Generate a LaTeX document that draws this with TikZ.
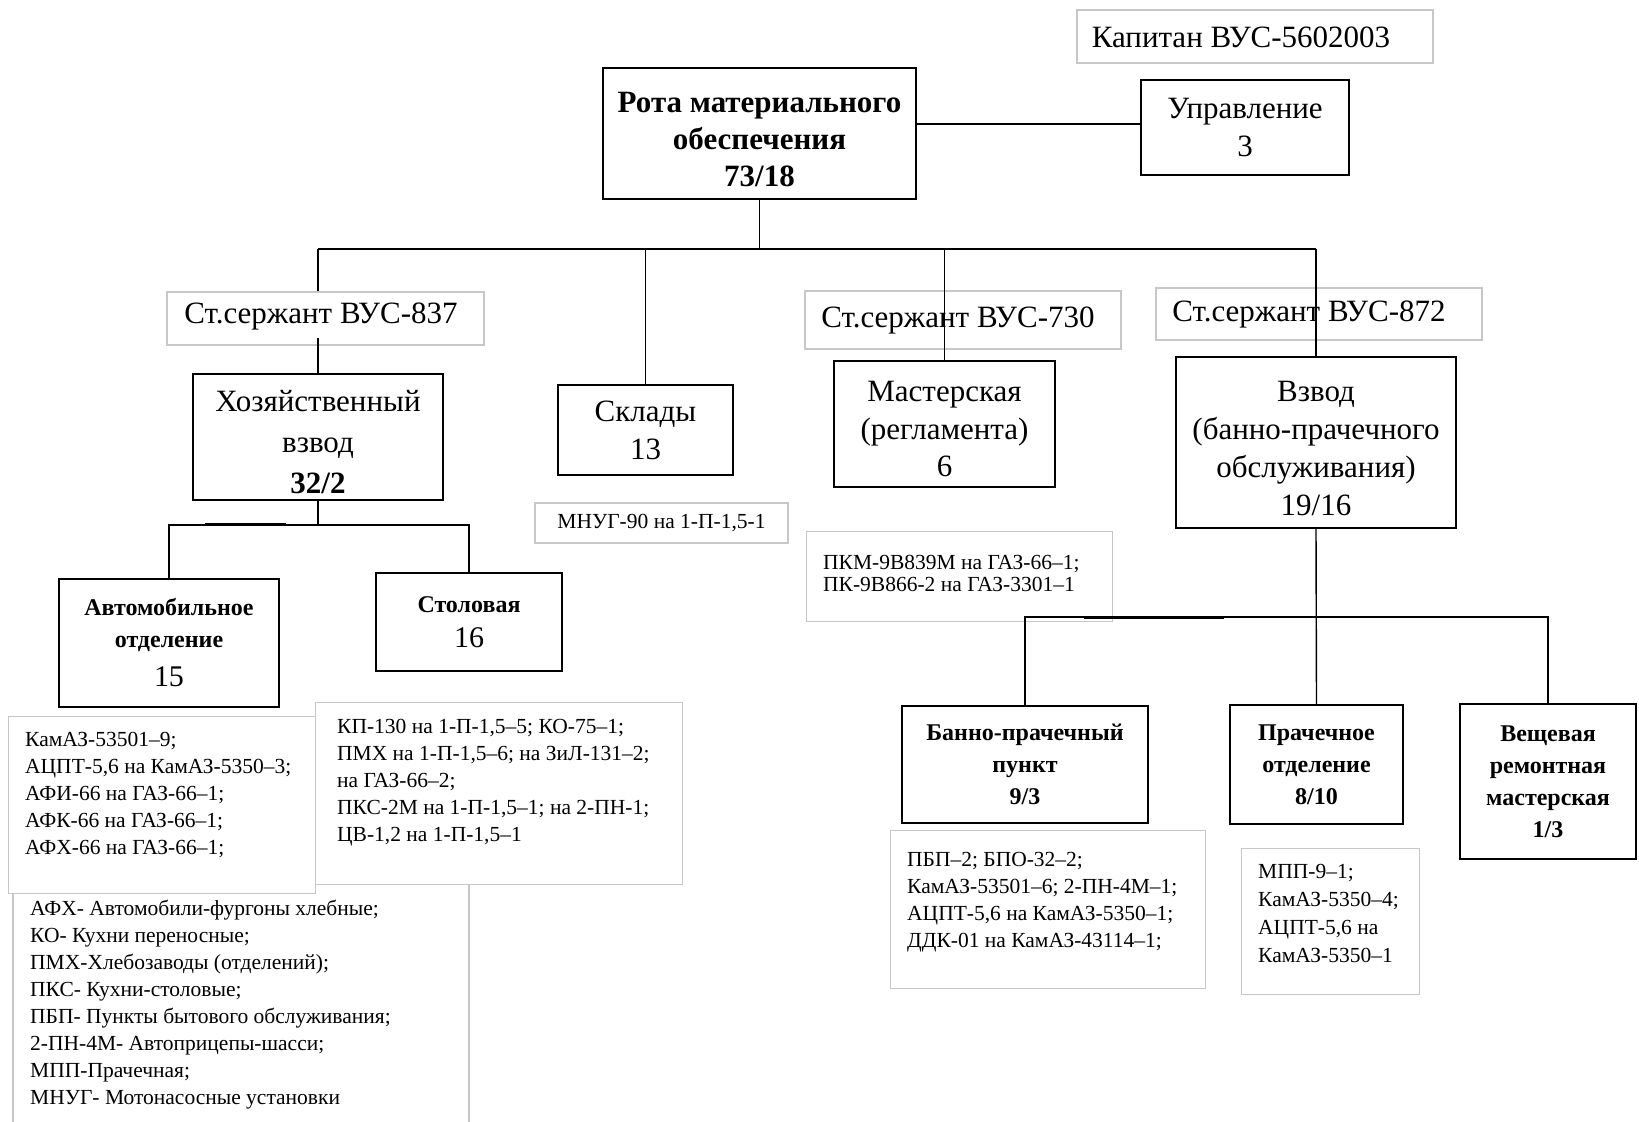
\documentclass[tikz,border=0pt]{standalone}
\usepackage{fontspec}
\setmainfont{Liberation Serif}
\usetikzlibrary{calc}
\begin{document}
\begin{tikzpicture}[x=1pt,y=-1pt,
  box/.style={draw=black, line width=1.6pt, inner sep=0pt, align=center},
  lbl/.style={draw=black!22, line width=1.1pt, inner sep=0pt},
  info/.style={draw=black!22, line width=1.1pt, inner sep=0pt},
  txt/.style={inner sep=0pt, align=center},
  conn/.style={draw=black, line width=1.4pt},
  big/.style={font=\fontsize{31}{37}\selectfont},
  bigb/.style={font=\bfseries\fontsize{31}{37}\selectfont},
  midb/.style={font=\bfseries\fontsize{24}{32}\selectfont},
  small/.style={font=\fontsize{21.5}{27}\selectfont, inner sep=0pt, align=left, anchor=north west}
]
\useasboundingbox (0,0) rectangle (1639,1122);
\fill[white] (0,0) rectangle (1639,1122);

% top
\node[lbl, minimum width=356, minimum height=53] (kap) at (1255,36.5) {};
\node[txt, big] (kapt) at (1241,37) {Капитан ВУС-5602003};
\node[box, minimum width=313, minimum height=131] (rota) at (759.5,133.5) {};
\node[txt, bigb] (rotat) at (759.5,139) {Рота материального\\обеспечения\\73/18};
\node[box, font=\fontsize{31}{38}\selectfont, minimum width=208, minimum height=95] (upr) at (1245,127.5) {Управление\\3};

% second level
\node[lbl, minimum width=317, minimum height=53] (l837) at (325.5,318.5) {};
\node[txt, big] (l837t) at (321,316) {Ст.сержант ВУС-837};
\node[box, minimum width=250, minimum height=126] (hoz) at (318,437) {};
\node[txt, font=\fontsize{31}{41}\selectfont] (hozt) at (318,442) {Хозяйственный\\взвод\\\textbf{32/2}};
\node[box, font=\fontsize{31}{38}\selectfont, minimum width=175, minimum height=90] (skl) at (645.5,430) {Склады\\13};
\node[info, font=\fontsize{21.5}{27}\selectfont, minimum width=253, minimum height=40] (mnug) at (661.5,523) {МНУГ-90 на 1-П-1,5-1};
\node[lbl, minimum width=316, minimum height=58] (l730) at (963,320) {};
\node[txt, big] (l730t) at (958,320) {Ст.сержант ВУС-730};
\node[box, minimum width=221, minimum height=126] (mast) at (944.5,424) {};
\node[txt, font=\fontsize{31}{37.5}\selectfont] (mastt) at (944.5,429) {Мастерская\\(регламента)\\6};
\node[lbl, minimum width=326, minimum height=52] (l872) at (1319,314) {};
\node[txt, big] (l872t) at (1309,314) {Ст.сержант ВУС-872};
\node[box, minimum width=280, minimum height=171] (vzv) at (1316,442.5) {};
\node[txt, font=\fontsize{31}{38}\selectfont] (vzvt) at (1316,448) {Взвод\\(банно-прачечного\\обслуживания)\\19/16};

\node[info, anchor=north west, minimum width=306, minimum height=90] (pkm) at (806,531) {};
\node[small, font=\fontsize{21.5}{22}\selectfont] (pkmt) at (823,555) {ПКМ-9В839М на ГАЗ-66–1;\\ПК-9В866-2 на ГАЗ-3301–1};

% Hoz children
\node[box, midb, minimum width=220, minimum height=128] (avto) at (169,643) {Автомобильное\\отделение\\[7pt]\mdseries\fontsize{30}{34}\selectfont 15};
\node[box, midb, minimum width=186, minimum height=98] (stol) at (469,622) {Столовая\\[3pt]\mdseries\fontsize{30}{36}\selectfont 16};

\node[info, anchor=north west, minimum width=307, minimum height=177] (kamaz) at (8,716) {};
\node[small] (kamazt) at (25,732) {КамАЗ-53501–9;\\АЦПТ-5,6 на КамАЗ-5350–3;\\АФИ-66 на ГАЗ-66–1;\\АФК-66 на ГАЗ-66–1;\\АФХ-66 на ГАЗ-66–1;};
\node[info, anchor=north west, minimum width=367, minimum height=182] (kp) at (315,702) {};
\node[small] (kpt) at (337,719) {КП-130 на 1-П-1,5–5; КО-75–1;\\ПМХ на 1-П-1,5–6; на ЗиЛ-131–2;\\на ГАЗ-66–2;\\ПКС-2М на 1-П-1,5–1; на 2-ПН-1;\\ЦВ-1,2 на 1-П-1,5–1};

% legend
\draw[draw=black!22, line width=1.1pt] (13,1122) -- (13,893);
\draw[draw=black!22, line width=1.1pt] (469,884) -- (469,1122);
\node[small] (legend) at (30,900) {АФХ- Автомобили-фургоны хлебные;\\КО- Кухни переносные;\\ПМХ-Хлебозаводы (отделений);\\ПКС- Кухни-столовые;\\ПБП- Пункты бытового обслуживания;\\2-ПН-4М- Автоприцепы-шасси;\\МПП-Прачечная;\\МНУГ- Мотонасосные установки};

% Vzvod children
\node[box, midb, minimum width=246, minimum height=117] (banno) at (1025,764.5) {Банно-прачечный\\пункт\\9/3};
\node[box, midb, minimum width=173, minimum height=119] (prach) at (1316.5,764.5) {Прачечное\\отделение\\8/10};
\node[box, midb, minimum width=176, minimum height=155] (vesh) at (1548,781.5) {Вещевая\\ремонтная\\мастерская\\1/3};

\node[info, anchor=north west, minimum width=315, minimum height=158] (pbp) at (890,830) {};
\node[small] (pbpt) at (907,852) {ПБП–2; БПО-32–2;\\КамАЗ-53501–6; 2-ПН-4М–1;\\АЦПТ-5,6 на КамАЗ-5350–1;\\ДДК-01 на КамАЗ-43114–1;};
\node[info, anchor=north west, minimum width=178, minimum height=146] (mpp) at (1241,848) {};
\node[small, font=\fontsize{21.5}{28}\selectfont] (mppt) at (1258,864) {МПП-9–1;\\КамАЗ-5350–4;\\АЦПТ-5,6 на\\КамАЗ-5350–1};

% connectors
\coordinate (bus) at (0,249);
\draw[conn] ($(rota.east |- upr.west)+(0,-3.5)$) -- ($(upr.west)+(0,-3.5)$);
\draw[conn] (rota.south) -- (rota.south |- bus);
\draw[conn] (hoz.north |- bus) -- (vzv.north |- bus);
\draw[conn] (hoz.north |- bus) -- (l837.north -| hoz.north);
\draw[conn] ($(l837.south -| hoz.north)+(0,-8)$) -- (hoz.north);
\draw[conn] (skl.north |- bus) -- (skl.north);
\draw[conn] (mast.north |- bus) -- (mast.north);
\draw[conn] (vzv.north |- bus) -- (vzv.north);

\coordinate (hj) at (0,525);
\draw[conn] (hoz.south) -- (hoz.south |- hj);
\draw[conn] (avto.north) -- (avto.north |- hj) -- (stol.north |- hj) -- (stol.north);
\draw[line width=2.6pt] ($(avto.north |- hj)+(36,-1)$) -- ($(avto.north |- hj)+(117,-1)$);

\coordinate (vj) at (0,617);
\draw[conn] (vzv.south) -- (prach.north);
\draw[conn] (banno.north) -- (banno.north |- vj) -- (vesh.north |- vj) -- (vesh.north);
\draw[line width=2.6pt] ($(banno.north |- vj)+(59,1)$) -- ($(banno.north |- vj)+(199,1)$);
\end{tikzpicture}
\end{document}
